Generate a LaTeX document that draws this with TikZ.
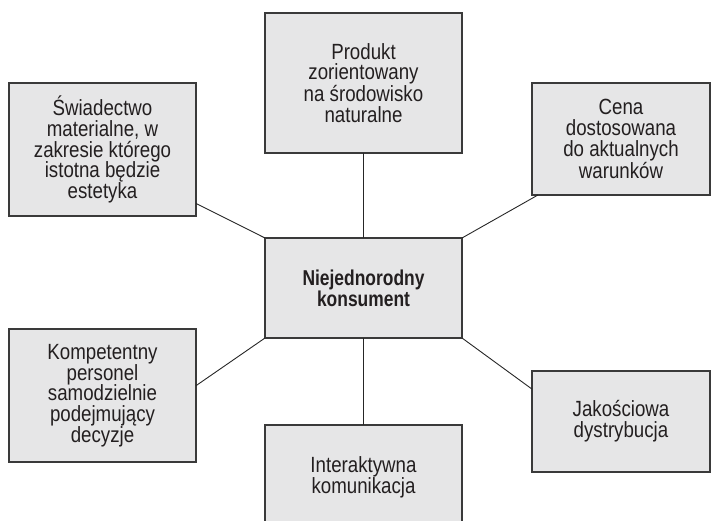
\documentclass[tikz,border=0pt]{standalone}
\usepackage{fontspec}
\setmainfont{Liberation Sans}[FakeStretch=0.85, BoldFeatures={FakeStretch=0.81}]
\definecolor{boxfill}{HTML}{E6E6E7}
\definecolor{boxline}{HTML}{3A3A3A}
\definecolor{txt}{HTML}{231F20}
\begin{document}
\begin{tikzpicture}[x=1pt,y=-1pt,
  box/.style={draw=boxline, line width=1.4pt, fill=boxfill, text=txt,
    align=center, inner sep=0pt, outer sep=0pt,
    font=\fontsize{22}{20.7}\selectfont},
  link/.style={draw=black!85, line width=0.9pt}]
\useasboundingbox (0,0) rectangle (711,521);
\node[box, minimum width=197pt, minimum height=140pt] (P) at (363.5,83) {Produkt\\zorientowany\\na środowisko\\naturalne};
\node[box, minimum width=187pt, minimum height=133pt] (S) at (102.5,149.5) {Świadectwo\\materialne, w\\zakresie którego\\istotna będzie\\estetyka};
\node[box, minimum width=178pt, minimum height=112pt] (C) at (621,139) {Cena\\dostosowana\\do aktualnych\\warunków};
\node[box, minimum width=197pt, minimum height=100pt, font=\fontsize{21.5}{20.7}\selectfont\bfseries] (N) at (363.5,288) {Niejednorodny\\konsument};
\node[box, minimum width=187pt, minimum height=133pt] (K) at (102.5,395.5) {Kompetentny\\personel\\samodzielnie\\podejmujący\\decyzje};
\node[box, minimum width=178pt, minimum height=101pt] (J) at (621,421.5) {Jakościowa\\dystrybucja};
\node[box, minimum width=197pt, minimum height=104pt] (I) at (363.5,477) {Interaktywna\\komunikacja};
\draw[link] (N.north) -- (P.south);
\draw[link] (N.south) -- (I.north);
\draw[link] (N.north west) -- (S.-30);
\draw[link] (N.north east) -- (C.214);
\draw[link] (N.south west) -- (K.6);
\draw[link] (N.south east) -- (J.160);
\end{tikzpicture}
\end{document}
